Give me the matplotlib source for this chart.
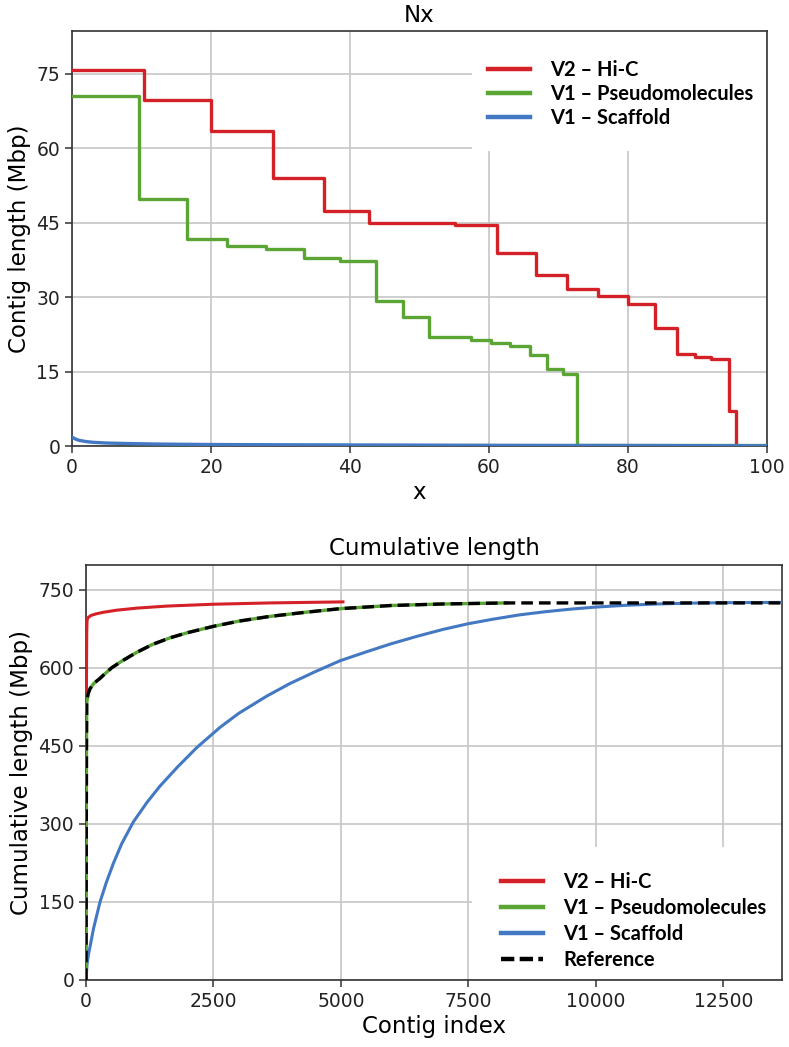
import matplotlib.pyplot as plt
from matplotlib.patches import Rectangle

# Nx curves (x in %, contig length in Mbp)
hic_nx_x = [0, 10.4, 20.0, 28.9, 36.3, 42.8, 48.9, 55.1, 61.2, 66.7, 71.3, 75.7,
            80.0, 83.9, 87.1, 89.6, 92.0, 94.5, 95.5, 100]
hic_nx_y = [75.8, 69.6, 63.5, 54.0, 47.3, 45.0, 44.9, 44.6, 38.9, 34.4, 31.7, 30.2,
            28.6, 23.7, 18.6, 18.0, 17.5, 7.1, 0.0, 0.0]
pseudo_nx_x = [0, 9.6, 16.6, 22.3, 27.9, 33.4, 38.6, 43.7, 47.7, 51.3, 54.4, 57.4,
               60.3, 63.0, 65.9, 68.4, 70.7, 72.6, 100]
pseudo_nx_y = [70.5, 49.8, 41.7, 40.2, 39.7, 37.8, 37.2, 29.2, 26.0, 22.0, 21.9, 21.3,
               20.8, 20.1, 18.3, 15.6, 14.6, 0.2, 0.2]
scaf_nx_x = [0, 0.5, 1, 2, 3, 5, 8, 12, 20, 30, 45, 60, 80, 100]
scaf_nx_y = [1.8, 1.4, 1.15, 0.9, 0.75, 0.6, 0.5, 0.4, 0.3, 0.25, 0.2, 0.15, 0.1, 0.05]

# Cumulative length (contig index, Mbp)
hic_cum_x = [0, 5, 10, 15, 20, 30, 100, 200, 340, 600, 996, 1600, 2500, 3614, 5040]
hic_cum_y = [0, 330, 600, 670, 690, 696, 701, 704, 707, 711, 715, 719, 722.5, 725, 727]
pseudo_cum_x = [0, 5, 10, 14, 40, 79, 150, 275, 340, 500, 700, 996, 1300, 1650, 2000,
                2500, 3000, 3600, 4300, 4988, 5970, 7000, 8260]
pseudo_cum_y = [0, 250, 450, 533, 550, 560, 570, 580, 586, 600, 613, 630, 645, 658, 668,
                680, 690, 699, 707, 714, 720, 723, 725]
ref_cum_x = pseudo_cum_x + [13650]
ref_cum_y = pseudo_cum_y + [725]
scaf_cum_x = [0, 20, 50, 79, 150, 275, 400, 536, 700, 929, 1200, 1453, 1800, 2174,
              2632, 3000, 3548, 4000, 4500, 4988, 5500, 5970, 6500, 7000, 7496, 8000,
              8500, 9000, 9500, 9996, 10600, 11208, 11800, 12510, 13650]
scaf_cum_y = [0, 30, 50, 64, 100, 150, 188, 224, 262, 304, 342, 373, 410, 447,
              486, 513, 546, 570, 593, 614, 631, 646, 661, 674, 685, 694,
              702, 708, 713, 717, 720.5, 723, 724.5, 725.5, 726]

labels = ['V2 – Hi-C', 'V1 – Pseudomolecules', 'V1 – Scaffold']
red, green, blue = '#d42027', '#5ba534', '#4379c2'

plt.rcParams['font.family'] = 'DejaVu Sans'
plt.rcParams['axes.edgecolor'] = '#333333'
plt.rcParams['axes.linewidth'] = 1.2
plt.rcParams['xtick.color'] = '#333333'
plt.rcParams['ytick.color'] = '#333333'
plt.rcParams['xtick.labelcolor'] = '#222222'
plt.rcParams['ytick.labelcolor'] = '#222222'

fig = plt.figure(figsize=(7.89, 10.47), dpi=100)
ax1 = fig.add_axes([0.0913, 0.574, 0.8807, 0.396])
ax2 = fig.add_axes([0.109, 0.064, 0.882, 0.3964])

leg_font = {'family': 'Lato', 'weight': 'bold', 'size': 14.5}

# Top: Nx
ax1.step(hic_nx_x, hic_nx_y, where='post', color=red, lw=2.4, zorder=3)
ax1.step(pseudo_nx_x, pseudo_nx_y, where='post', color=green, lw=2.4, zorder=3)
ax1.plot(scaf_nx_x, scaf_nx_y, color=blue, lw=2.4, zorder=3)
ax1.set_xlim(0, 100)
ax1.set_ylim(0, 83.5)
ax1.set_yticks([0, 15, 30, 45, 60, 75])
ax1.set_xticks([0, 20, 40, 60, 80, 100])
ax1.grid(color='#c6c6c6', lw=1.2)
ax1.set_title('Nx', fontsize=16.5, pad=7)
ax1.set_xlabel('x', fontsize=16.5, labelpad=3)
ax1.set_ylabel('Contig length (Mbp)', fontsize=16.5)
ax1.tick_params(labelsize=13.5, length=5, width=1.1)
ax1.add_patch(Rectangle((0.5755, 0.711), 0.4235, 0.289, transform=ax1.transAxes,
                        facecolor='white', edgecolor='none', zorder=1.6))
h = [plt.Line2D([], [], color=c, lw=3.2) for c in (red, green, blue)]
ax1.legend(h, labels, loc='upper left', bbox_to_anchor=(0.584, 0.955), frameon=False,
           prop=leg_font, borderpad=0, handlelength=2.1, handletextpad=1.0,
           labelspacing=0.2)

# Bottom: cumulative length
ax2.plot(hic_cum_x, hic_cum_y, color=red, lw=2.2, zorder=3)
ax2.plot(scaf_cum_x, scaf_cum_y, color=blue, lw=2.2, zorder=3)
ax2.plot(pseudo_cum_x, pseudo_cum_y, color=green, lw=2.4, zorder=3)
ax2.plot(ref_cum_x, ref_cum_y, color='black', lw=2.4, ls=(0, (3.5, 1.8)), zorder=4)
ax2.set_xlim(0, 13650)
ax2.set_ylim(0, 798)
ax2.set_yticks([0, 150, 300, 450, 600, 750])
ax2.set_xticks([0, 2500, 5000, 7500, 10000, 12500])
ax2.grid(color='#c6c6c6', lw=1.2)
ax2.set_title('Cumulative length', fontsize=16.5, pad=7)
ax2.set_xlabel('Contig index', fontsize=16.5, labelpad=3)
ax2.set_ylabel('Cumulative length (Mbp)', fontsize=16.5)
ax2.tick_params(labelsize=13.5, length=5, width=1.1)
ax2.add_patch(Rectangle((0.5546, 0.002), 0.4444, 0.3185, transform=ax2.transAxes,
                        facecolor='white', edgecolor='none', zorder=1.6))
h2 = h + [plt.Line2D([], [], color='black', lw=3.2, ls=(0, (3, 1.2)))]
ax2.legend(h2, labels + ['Reference'], loc='upper left', bbox_to_anchor=(0.582, 0.285),
           frameon=False, prop=leg_font, borderpad=0, handlelength=2.1,
           handletextpad=1.0, labelspacing=0.3)

fig.savefig('out.png', dpi=100)
